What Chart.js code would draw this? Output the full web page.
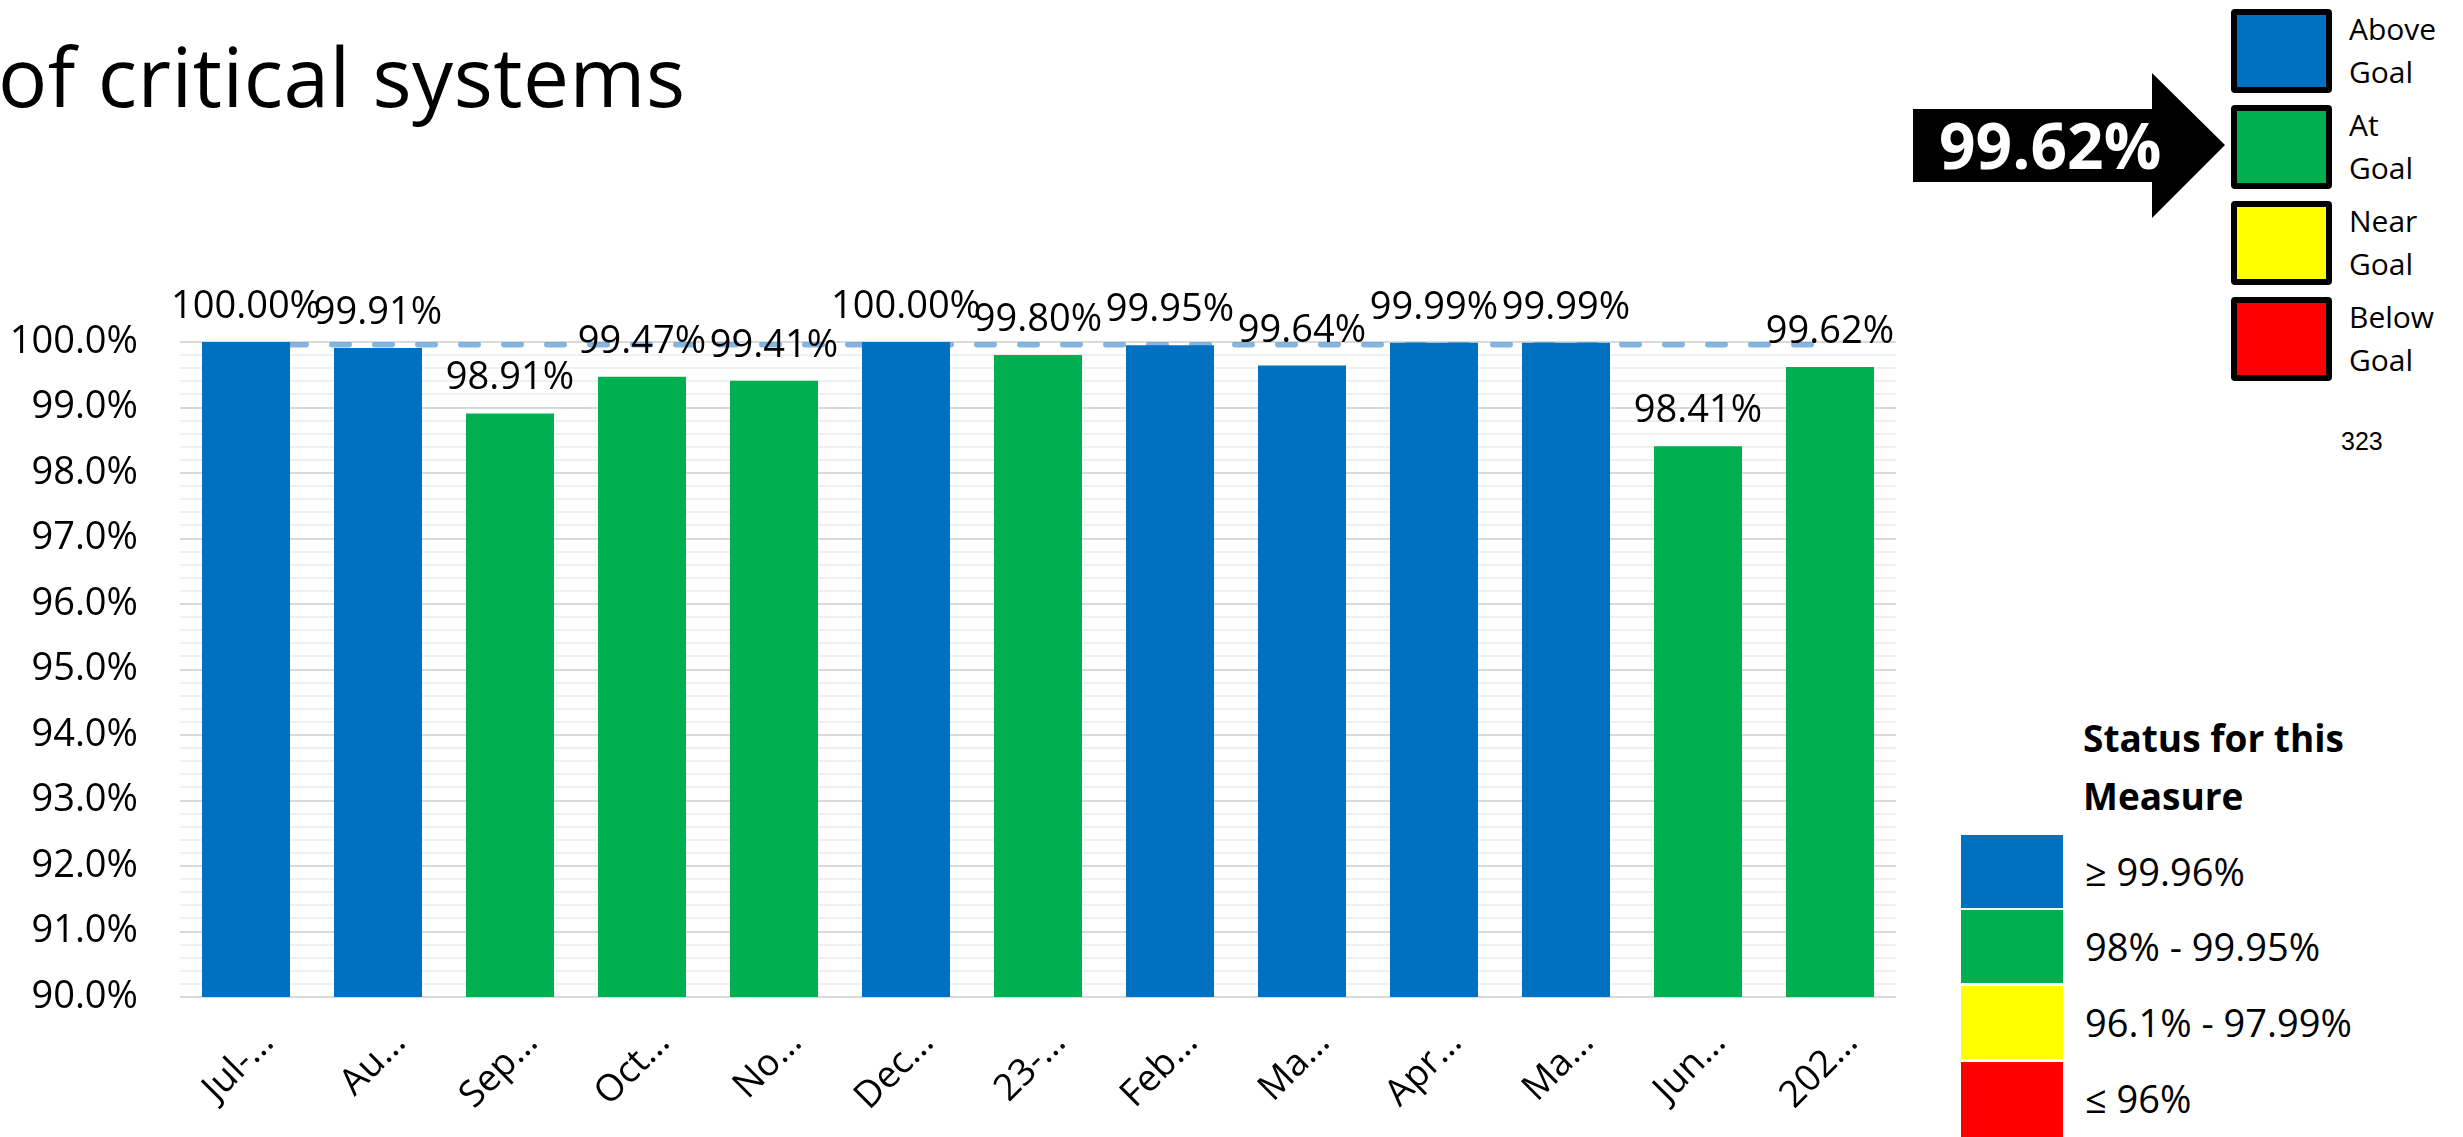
<!DOCTYPE html>
<html>
<head>
<meta charset="utf-8">
<script src="https://cdn.jsdelivr.net/npm/chart.js@4"></script>
<style>
  body { margin: 0; background: #fff; font-family: 'Open Sans', sans-serif; color: #000; }
  #page { position: relative; width: 2463px; height: 1137px; overflow: hidden; }
  .title { position: absolute; left: -2px; top: 34px; font-size: 82px; line-height: 82px; font-weight: 400; letter-spacing: 0.5px; white-space: nowrap; }
  #chartBox { position: absolute; left: 0; top: 250px; width: 1930px; height: 887px; }
  .arrow { position: absolute; left: 1913px; top: 73px; }
  .arrowText { position: absolute; left: 1939px; top: 113px; font-size: 64px; line-height: 64px; font-weight: 700; color: #fff; }
  .goalBox { position: absolute; left: 2231px; width: 101px; height: 84px; box-sizing: border-box; border: 6px solid #000; border-radius: 4px; }
  .goalText { position: absolute; left: 2349px; font-size: 30px; line-height: 43px; }
  .pageNo { position: absolute; left: 2341px; top: 429px; font-family: 'Liberation Sans', Arial, sans-serif; font-size: 25px; line-height: 25px; }
  .statusHead { position: absolute; left: 2083px; top: 709px; font-size: 37px; line-height: 58px; font-weight: 700; }
  .statusBox { position: absolute; left: 1961px; width: 102px; height: 73px; }
  .statusText { position: absolute; left: 2085px; font-size: 38px; line-height: 73px; white-space: nowrap; }
</style>
</head>
<body>
<div id="page">
  <div class="title">of critical systems</div>

  <div id="chartBox"><canvas id="uptimeChart"></canvas></div>

  <svg class="arrow" width="312" height="145" viewBox="0 0 312 145">
    <polygon points="0,36 239,36 239,0 312,72 239,145 239,109 0,109" fill="#000" />
  </svg>
  <div class="arrowText">99.62%</div>

  <div class="goalBox" style="top:9px; background:#0070C0;"></div>
  <div class="goalBox" style="top:105px; background:#00B050;"></div>
  <div class="goalBox" style="top:201px; background:#FFFF00;"></div>
  <div class="goalBox" style="top:297px; background:#FF0000;"></div>
  <div class="goalText" style="top:7px;">Above<br>Goal</div>
  <div class="goalText" style="top:103px;">At<br>Goal</div>
  <div class="goalText" style="top:199px;">Near<br>Goal</div>
  <div class="goalText" style="top:295px;">Below<br>Goal</div>
  <div class="pageNo">323</div>

  <div class="statusHead">Status for this<br>Measure</div>
  <div class="statusBox" style="top:835px; background:#0070C0;"></div>
  <div class="statusBox" style="top:910px; background:#00B050;"></div>
  <div class="statusBox" style="top:986px; background:#FFFF00;"></div>
  <div class="statusBox" style="top:1062px; height:75px; background:#FF0000;"></div>
  <div class="statusText" style="top:835px;">≥ 99.96%</div>
  <div class="statusText" style="top:910px;">98% - 99.95%</div>
  <div class="statusText" style="top:986px;">96.1% - 97.99%</div>
  <div class="statusText" style="top:1062px;">≤ 96%</div>
</div>

<script>
// chart data
const months = ['Jul-…', 'Au…', 'Sep…', 'Oct…', 'No…', 'Dec…', '23-…', 'Feb…', 'Ma…', 'Apr…', 'Ma…', 'Jun…', '202…'];
const uptime = [100.0, 99.91, 98.91, 99.47, 99.41, 100.0, 99.8, 99.95, 99.64, 99.99, 99.99, 98.41, 99.62];
const status = ['above', 'above', 'at', 'at', 'at', 'above', 'at', 'above', 'above', 'above', 'above', 'at', 'at'];
const goal = [99.96, 99.96, 99.96, 99.96, 99.96, 99.96, 99.96, 99.96, 99.96, 99.96, 99.96, 99.96, 99.96];
const yMin = 90;
const yMax = 100;
const yStep = 0.2;

const statusColors = {
  above: '#0070C0',
  at: '#00B050',
  near: '#FFFF00',
  below: '#FF0000',
};

const isMajor = (v) => Math.abs(v - Math.round(v)) < 1e-6;

// value labels above bars
const barLabels = {
  id: 'barLabels',
  afterDatasetsDraw(chart) {
    const ctx = chart.ctx;
    const meta = chart.getDatasetMeta(0);
    ctx.save();
    ctx.font = '38px "Open Sans"';
    ctx.fillStyle = '#000';
    ctx.textAlign = 'center';
    ctx.textBaseline = 'alphabetic';
    meta.data.forEach((bar, i) => {
      ctx.fillText(uptime[i].toFixed(2) + '%', bar.x, bar.y - 24);
    });
    ctx.restore();
  },
};

window.addEventListener('load', () => {
  Chart.defaults.font.family = "'Open Sans', sans-serif";
  Chart.defaults.color = '#000';

  const ctx = document.getElementById('uptimeChart').getContext('2d');
  new Chart(ctx, {
    type: 'bar',
    data: {
      labels: months,
      datasets: [
        {
          type: 'bar',
          label: 'Uptime',
          data: uptime,
          backgroundColor: status.map((s) => statusColors[s]),
          barPercentage: 0.667,
          categoryPercentage: 1,
          order: 1,
        },
        {
          type: 'line',
          label: 'Goal',
          data: goal,
          borderColor: 'rgba(91, 155, 213, 0.75)',
          borderWidth: 6,
          borderDash: [17, 26],
          borderCapStyle: 'round',
          pointRadius: 0,
          fill: false,
          order: 2,
        },
      ],
    },
    options: {
      responsive: true,
      maintainAspectRatio: false,
      animation: false,
      layout: {
        padding: { top: 92, right: 34, left: 0, bottom: 0 },
      },
      plugins: {
        legend: { display: false },
        tooltip: { enabled: false },
      },
      scales: {
        x: {
          grid: { display: false },
          border: { display: false },
          ticks: {
            autoSkip: false,
            minRotation: 45,
            maxRotation: 45,
            padding: 16,
            labelOffset: 22,
            font: { size: 37 },
          },
          afterFit: (scale) => {
            scale.height = 140;
          },
        },
        y: {
          min: yMin,
          max: yMax,
          border: { display: false },
          grid: {
            drawTicks: false,
            lineWidth: 2,
            color: (c) => (isMajor(c.tick.value) ? '#D9D9D9' : '#F0F0F0'),
          },
          ticks: {
            stepSize: yStep,
            autoSkip: false,
            padding: 42,
            font: { size: 38 },
            callback: (v) => (isMajor(v) ? Number(v).toFixed(1) + '%' : ''),
          },
          afterFit: (scale) => {
            scale.width = 180;
          },
        },
      },
    },
    plugins: [barLabels],
  });
});
</script>
</body>
</html>
